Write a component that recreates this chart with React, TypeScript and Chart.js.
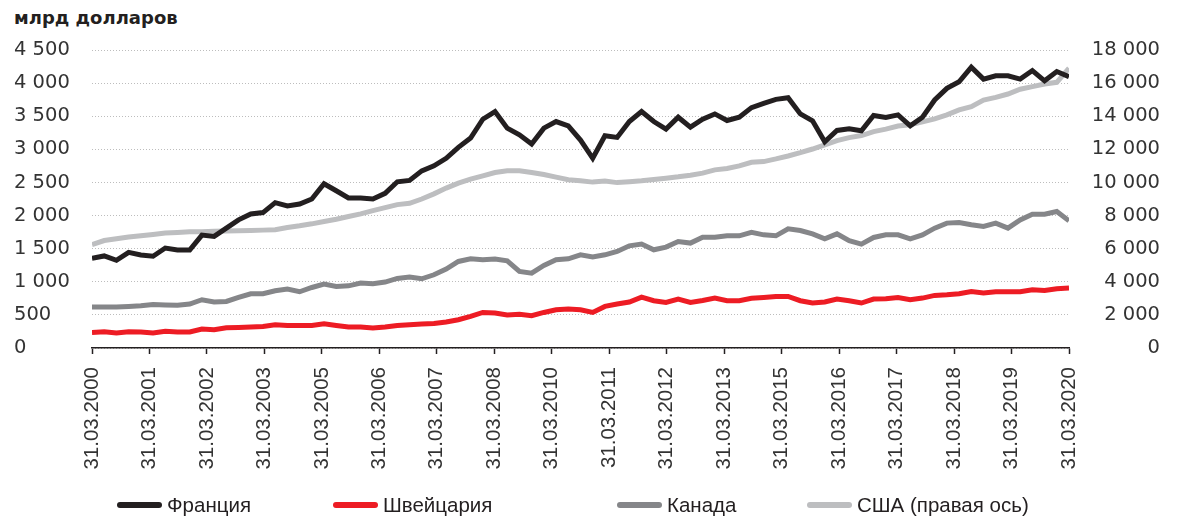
import React, { useEffect, useRef } from 'react';
import { Chart, registerables } from 'chart.js';

Chart.register(...registerables);

// ---- data (quarterly, 31.03.2000 … 31.03.2020) ----
const xTickLabels = [
  '31.03.2000', '31.03.2001', '31.03.2002', '31.03.2003', '31.03.2005', '31.03.2006',
  '31.03.2007', '31.03.2008', '31.03.2010', '31.03.2011', '31.03.2012', '31.03.2013',
  '31.03.2015', '31.03.2016', '31.03.2017', '31.03.2018', '31.03.2019', '31.03.2020',
];

const seriesNames = ['Франция', 'Швейцария', 'Канада', 'США (правая ось)'];

const france = [
  1355, 1390, 1325, 1445, 1405, 1385, 1510, 1480, 1480, 1705,
  1685, 1810, 1935, 2025, 2045, 2195, 2145, 2175, 2250, 2480,
  2375, 2265, 2265, 2250, 2335, 2510, 2530, 2675, 2750, 2865,
  3030, 3170, 3455, 3570, 3320, 3220, 3080, 3320, 3420, 3355,
  3140, 2865, 3205, 3180, 3420, 3570, 3420, 3305, 3485, 3335,
  3455, 3535, 3435, 3485, 3630, 3695, 3755, 3780, 3535, 3430,
  3115, 3285, 3310, 3280, 3510, 3480, 3520, 3355, 3485, 3745,
  3920, 4020, 4240, 4060, 4110, 4110, 4060, 4190, 4035, 4175,
  4095,
];

const switzerland = [
  235, 246, 226, 246, 241, 226, 251, 241, 241, 287,
  276, 306, 311, 317, 326, 351, 341, 341, 341, 367,
  341, 317, 317, 302, 317, 341, 351, 362, 371, 392,
  427, 477, 537, 528, 498, 508, 487, 537, 578, 588,
  578, 537, 628, 664, 694, 769, 714, 688, 739, 688,
  718, 754, 714, 714, 750, 763, 778, 778, 714, 679,
  694, 739, 714, 679, 739, 744, 763, 729, 754, 794,
  804, 819, 854, 830, 849, 849, 849, 879, 869, 895,
  905,
];

const canada = [
  618, 618, 618, 627, 638, 658, 649, 644, 664, 729,
  694, 703, 763, 819, 819, 864, 890, 849, 914, 965,
  929, 939, 980, 970, 996, 1050, 1071, 1045, 1106, 1192,
  1307, 1347, 1332, 1343, 1317, 1156, 1131, 1246, 1332, 1347,
  1407, 1373, 1407, 1457, 1543, 1569, 1483, 1523, 1608, 1584,
  1674, 1674, 1694, 1694, 1747, 1709, 1694, 1800, 1774, 1724,
  1649, 1724, 1619, 1569, 1669, 1709, 1709, 1649, 1709, 1810,
  1886, 1895, 1860, 1835, 1886, 1810, 1935, 2021, 2021, 2061,
  1920,
];

const usa = [
  6250, 6490, 6600, 6700, 6780, 6860, 6940, 6980, 7020, 7025,
  7050, 7070, 7080, 7100, 7120, 7140, 7280, 7380, 7500, 7640,
  7780, 7940, 8100, 8300, 8480, 8660, 8740, 9000, 9310, 9660,
  9960, 10200, 10400, 10600, 10700, 10700, 10600, 10480, 10320, 10160,
  10100, 10020, 10080, 9990, 10040, 10100, 10180, 10260, 10340, 10440,
  10560, 10760, 10840, 11000, 11220, 11260, 11420, 11600, 11800, 12020,
  12270, 12530, 12710, 12830, 13070, 13220, 13410, 13480, 13660, 13840,
  14080, 14380, 14580, 14980, 15140, 15340, 15630, 15790, 15950, 16050,
  16900,
];

const seriesColors = ['#231f20', '#ed1c24', '#858689', '#bdbec0'];

const leftMax = 4500;
const leftStep = 500;
const rightMax = 18000;
const rightStep = 2000;

// ---- layout ----
const W = 1179;
const H = 519;
const legendLeft = [117, 333, 617, 807];

const fmt = (v: number) => String(v).replace(/\B(?=(\d{3})+(?!\d))/g, ' ');

export default function App() {
  const canvasRef = useRef<HTMLCanvasElement>(null);

  useEffect(() => {
    if (!canvasRef.current) return;
    const last = france.length - 1;
    const toPts = (arr: number[]) => arr.map((v, i) => ({ x: i, y: v }));
    const allSeries = [france, switzerland, canada, usa];
    const chart = new Chart(canvasRef.current, {
      type: 'line',
      data: {
        datasets: allSeries.map((s, k) => ({
          label: seriesNames[k],
          data: toPts(s),
          borderColor: seriesColors[k],
          backgroundColor: seriesColors[k],
          borderWidth: 5,
          pointRadius: 0,
          tension: 0,
          fill: false,
          yAxisID: k === 3 ? 'y2' : 'y',
        })),
      },
      options: {
        animation: false,
        responsive: false,
        maintainAspectRatio: false,
        layout: { padding: { left: 14, right: 19, top: 50, bottom: 0 } },
        plugins: {
          legend: { display: false },
          tooltip: { enabled: false },
          title: { display: false },
        },
        scales: {
          x: {
            type: 'linear',
            min: 0,
            max: last,
            afterBuildTicks: (scale: any) => {
              scale.ticks = xTickLabels.map((_, k) => ({
                value: (k * last) / (xTickLabels.length - 1),
              }));
            },
            afterFit: (scale: any) => {
              scale.height = 171;
            },
            ticks: {
              autoSkip: false,
              minRotation: 90,
              maxRotation: 90,
              padding: 13,
              color: '#333333',
              font: { family: 'Liberation Sans', size: 20.5 },
              callback: (_v: any, i: number) => xTickLabels[i],
            },
            grid: {
              drawOnChartArea: false,
              drawTicks: true,
              tickLength: 6,
              tickColor: '#231f20',
              tickWidth: 1.5,
            },
            border: { display: true, color: '#231f20', width: 1.5 },
          },
          y: {
            position: 'left',
            min: 0,
            max: leftMax,
            afterFit: (scale: any) => {
              scale.width = 78;
            },
            ticks: {
              stepSize: leftStep,
              crossAlign: 'far',
              color: '#333333',
              font: { family: 'DejaVu Sans', size: 19.5 },
              callback: (v: any) => fmt(Number(v)),
            },
            grid: { color: '#bdbdbd', lineWidth: 1, drawTicks: false },
            border: { display: false, dash: [1, 2] },
          },
          y2: {
            position: 'right',
            min: 0,
            max: rightMax,
            afterFit: (scale: any) => {
              scale.width = 91;
            },
            ticks: {
              stepSize: rightStep,
              crossAlign: 'far',
              color: '#333333',
              font: { family: 'DejaVu Sans', size: 19.5 },
              callback: (v: any) => fmt(Number(v)),
            },
            grid: { display: false, drawTicks: false },
            border: { display: false },
          },
        },
      },
    } as any);
    return () => chart.destroy();
  }, []);

  return (
    <div style={{ position: 'fixed', left: 0, top: 0, width: W, height: H, background: '#fff' }}>
      <div
        style={{
          position: 'absolute',
          left: 14,
          top: 7,
          fontFamily: 'DejaVu Sans',
          fontWeight: 'bold',
          fontSize: 18,
          lineHeight: '22px',
          color: '#231f20',
          whiteSpace: 'nowrap',
        }}
      >
        млрд долларов
      </div>
      <canvas
        ref={canvasRef}
        width={W}
        height={H}
        style={{ position: 'absolute', left: 0, top: 0, width: W, height: H }}
      />
      {seriesNames.map((name, k) => (
        <div
          key={name}
          style={{
            position: 'absolute',
            left: legendLeft[k],
            top: 493,
            height: 24,
            display: 'flex',
            alignItems: 'center',
            whiteSpace: 'nowrap',
          }}
        >
          <span
            style={{
              display: 'inline-block',
              width: 45,
              height: 6,
              borderRadius: 3,
              background: seriesColors[k],
              marginRight: 5,
            }}
          />
          <span
            style={{
              fontFamily: 'Liberation Sans',
              fontSize: 20.5,
              color: '#231f20',
              lineHeight: '24px',
            }}
          >
            {name}
          </span>
        </div>
      ))}
    </div>
  );
}
